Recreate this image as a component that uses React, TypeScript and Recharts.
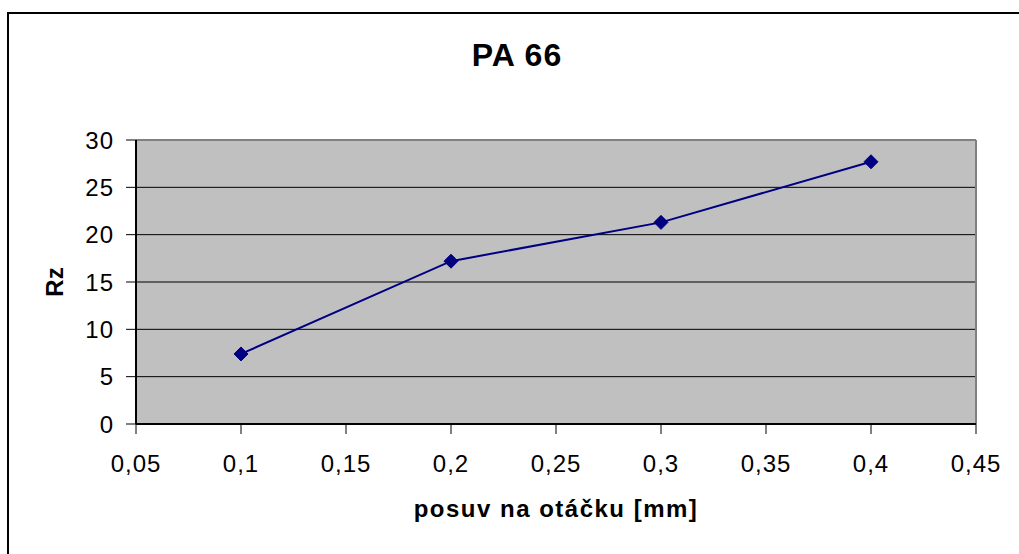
import { CartesianGrid, Label, Line, LineChart, ReferenceLine, XAxis, YAxis } from 'recharts';

// posuv na otáčku [mm] vs. Rz
const feeds = [0.1, 0.2, 0.3, 0.4];
const rzValues = [7.4, 17.2, 21.3, 27.7];
const xTicks = [0.05, 0.1, 0.15, 0.2, 0.25, 0.3, 0.35, 0.4, 0.45];
const yTicks = [0, 5, 10, 15, 20, 25, 30];

const title = 'PA 66';
const xTitle = 'posuv na otáčku [mm]';
const yTitle = 'Rz';

const FONT = '"Liberation Sans", Arial, sans-serif';

const data = feeds.map((f, i) => ({ feed: f, rz: rzValues[i] }));

const Diamond = (props: any) => {
  const { cx, cy } = props;
  if (cx == null || cy == null) return null;
  const r = 7;
  return (
    <polygon
      points={`${cx},${cy - r} ${cx + r},${cy} ${cx},${cy + r} ${cx - r},${cy}`}
      fill="#000080"
      stroke="#000080"
    />
  );
};

const tickStyle = { fontSize: 24, fill: '#000', fontFamily: FONT, letterSpacing: 1 };

export default function App() {
  return (
    <div
      style={{
        position: 'absolute',
        left: 0,
        top: 0,
        width: 1019,
        height: 554,
        overflow: 'hidden',
        background: '#fff',
        fontFamily: FONT,
      }}
    >
      {/* chart frame, only left and top edges fall inside the picture */}
      <div
        style={{
          position: 'absolute',
          left: 7,
          top: 12,
          width: 1100,
          height: 700,
          borderLeft: '2px solid #000',
          borderTop: '2px solid #000',
        }}
      />
      <div
        style={{
          position: 'absolute',
          left: 0,
          width: 1034,
          top: 37,
          textAlign: 'center',
          fontSize: 32,
          fontWeight: 'bold',
          letterSpacing: 1,
          lineHeight: '36px',
        }}
      >
        {title}
      </div>
      <div style={{ position: 'absolute', left: 0, top: 0 }}>
        <LineChart
          width={1019}
          height={554}
          data={data}
          margin={{ top: 140, right: 43, left: 0, bottom: 0 }}
        >
          <CartesianGrid
            vertical={false}
            stroke="#000"
            strokeWidth={1}
            fill="#C0C0C0"
            fillOpacity={1}
          />
          <XAxis
            dataKey="feed"
            type="number"
            domain={[0.05, 0.45]}
            ticks={xTicks}
            interval={0}
            allowDataOverflow
            height={130}
            tickSize={10}
            tickMargin={21}
            axisLine={{ stroke: '#000', strokeWidth: 2 }}
            tickLine={{ stroke: '#000' }}
            tick={tickStyle}
            tickFormatter={(v: number) => String(v).replace('.', ',')}
          >
            <Label
              value={xTitle}
              position="insideBottom"
              offset={37}
              style={{
                fontSize: 24,
                fontWeight: 'bold',
                fill: '#000',
                fontFamily: FONT,
                letterSpacing: 1.5,
              }}
            />
          </XAxis>
          <YAxis
            type="number"
            domain={[0, 30]}
            ticks={yTicks}
            interval={0}
            width={136}
            tickSize={10}
            tickMargin={12}
            axisLine={{ stroke: '#000', strokeWidth: 2 }}
            tickLine={{ stroke: '#000' }}
            tick={tickStyle}
          >
            <Label
              content={() => (
                <text
                  x={0}
                  y={0}
                  transform="translate(63 282) rotate(-90)"
                  textAnchor="middle"
                  fontSize={24}
                  fontWeight="bold"
                  fontFamily={FONT}
                  fill="#000"
                >
                  {yTitle}
                </text>
              )}
            />
          </YAxis>
          <ReferenceLine y={30} stroke="#808080" strokeWidth={2} />
          <ReferenceLine x={0.45} stroke="#808080" strokeWidth={2} />
          <Line
            type="linear"
            dataKey="rz"
            stroke="#000080"
            strokeWidth={2}
            dot={<Diamond />}
            activeDot={false}
            isAnimationActive={false}
          />
        </LineChart>
      </div>
    </div>
  );
}
